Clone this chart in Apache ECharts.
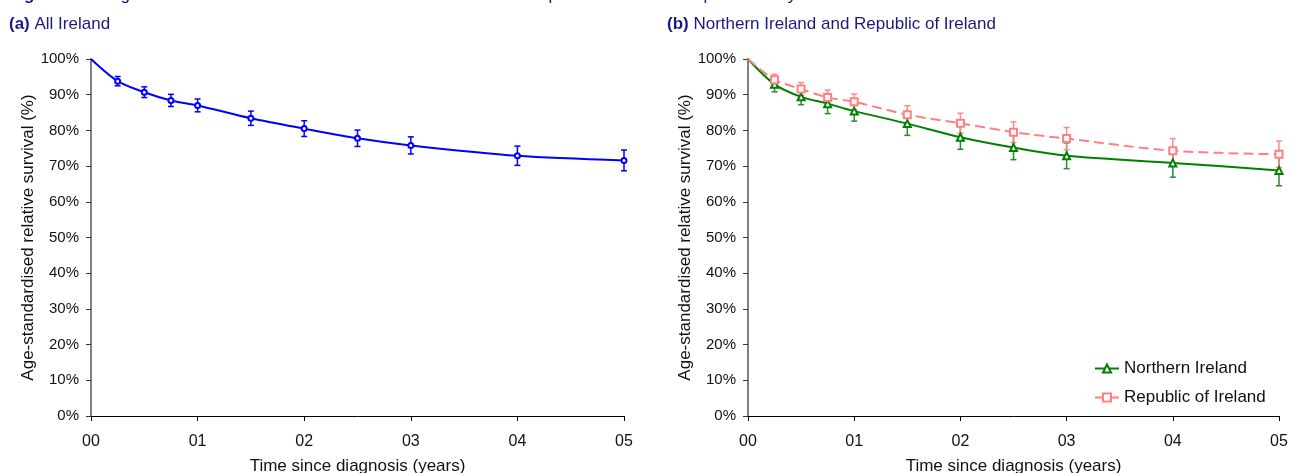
<!DOCTYPE html>
<html><head><meta charset="utf-8">
<script src="https://cdn.jsdelivr.net/npm/echarts@6/dist/echarts.min.js"></script>
<style>html,body{margin:0;padding:0;background:#fff}#c{width:1290px;height:473px}</style>
</head><body><div id="c"></div>
<script>
const years = [0, 0.25, 0.5, 0.75, 1, 1.5, 2, 2.5, 3, 4, 5];
const allIreland = [100, 93.8, 90.7, 88.4, 87.0, 83.4, 80.5, 77.8, 75.8, 72.9, 71.6];
const allIrelandErr = [0, 1.3, 1.5, 1.7, 1.8, 2.0, 2.2, 2.3, 2.4, 2.7, 2.9];
const northernIreland = [100, 92.9, 89.4, 87.5, 85.4, 81.9, 78.1, 75.2, 72.9, 70.9, 68.8];
const northernIrelandErr = [0, 2.1, 2.2, 2.8, 2.8, 3.3, 3.4, 3.4, 3.6, 4.0, 4.3];
const republicIreland = [100, 94.2, 91.6, 89.2, 88.0, 84.4, 82.0, 79.5, 77.7, 74.3, 73.3];
const republicIrelandErr = [0, 1.5, 1.8, 2.1, 2.2, 2.5, 2.8, 2.9, 3.1, 3.4, 3.7];
const xTickLabels = ['00', '01', '02', '03', '04', '05'];
const seriesNames = ['Northern Ireland', 'Republic of Ireland'];

const FONT = '"Liberation Sans Narrow", "Liberation Sans", Arial, sans-serif';
const NAVY = '#1a1a80';

function lineData(vals) {
  return years.map((x, i) => i === 0 ? { value: [x, vals[i]], symbol: 'none' } : [x, vals[i]]);
}
function errData(vals, errs) {
  const out = [];
  years.forEach((x, i) => { if (errs[i] > 0) out.push([x, vals[i] - errs[i], vals[i] + errs[i]]); });
  return out;
}
function errRender(color) {
  return function (params, api) {
    const x = api.value(0);
    const lo = api.coord([x, api.value(1)]);
    const hi = api.coord([x, api.value(2)]);
    const w = 3;
    const st = { stroke: color, lineWidth: 1.5 };
    return { type: 'group', children: [
      { type: 'line', shape: { x1: lo[0], y1: lo[1], x2: hi[0], y2: hi[1] }, style: st },
      { type: 'line', shape: { x1: lo[0] - w, y1: lo[1], x2: lo[0] + w, y2: lo[1] }, style: st },
      { type: 'line', shape: { x1: hi[0] - w, y1: hi[1], x2: hi[0] + w, y2: hi[1] }, style: st }
    ] };
  };
}
function xAxis(idx) {
  return {
    type: 'value', gridIndex: idx, min: 0, max: 5, interval: 1,
    name: 'Time since diagnosis (years)', nameLocation: 'middle', nameGap: 42,
    nameTextStyle: { fontFamily: FONT, fontSize: 17, color: '#111' },
    axisLine: { lineStyle: { color: '#000', width: 1 } },
    axisTick: { length: 5, lineStyle: { color: '#000' } },
    axisLabel: { margin: 18, fontFamily: FONT, fontSize: 16, color: '#111', formatter: v => xTickLabels[Math.round(v)] },
    splitLine: { show: false }
  };
}
function yAxis(idx) {
  return {
    type: 'value', gridIndex: idx, min: 0, max: 100, interval: 10,
    name: 'Age-standardised relative survival (%)', nameLocation: 'middle', nameGap: 50,
    nameTextStyle: { fontFamily: FONT, fontSize: 17, color: '#111' },
    axisLine: { show: true, lineStyle: { color: '#808080', width: 2 } },
    axisTick: { show: true, length: 5, lineStyle: { color: '#333' } },
    axisLabel: { margin: 12, fontFamily: FONT, fontSize: 15, color: '#111', formatter: v => v + '%' },
    splitLine: { show: false }
  };
}

const chart = echarts.init(document.getElementById('c'), null, { renderer: 'canvas' });
chart.setOption({
  animation: false,
  backgroundColor: '#fff',
  textStyle: { fontFamily: FONT },
  graphic: [
    { type: 'text', left: 9, top: -13, style: { text: '{b|Figure 13.8:} Age-standardised relative survival for cancer of the uterus patients: 2000-2004 period analysis estimates',
      rich: { b: { fontWeight: 'bold', fontSize: 17, fill: NAVY, fontFamily: FONT } }, fontSize: 17, fill: NAVY, fontFamily: FONT } },
    { type: 'text', left: 9, top: 16, style: { text: '{b|(a)} All Ireland',
      rich: { b: { fontWeight: 'bold', fontSize: 17, fill: NAVY, fontFamily: FONT } }, fontSize: 17, fill: NAVY, fontFamily: FONT } },
    { type: 'text', left: 667, top: 16, style: { text: '{b|(b)} Northern Ireland and Republic of Ireland',
      rich: { b: { fontWeight: 'bold', fontSize: 17, fill: NAVY, fontFamily: FONT } }, fontSize: 17, fill: NAVY, fontFamily: FONT } }
  ],
  grid: [
    { left: 91, right: 666, top: 59, bottom: 57, containLabel: false, outerBoundsMode: 'none' },
    { left: 748, right: 11, top: 59, bottom: 57, containLabel: false, outerBoundsMode: 'none' }
  ],
  xAxis: [xAxis(0), xAxis(1)],
  yAxis: [yAxis(0), yAxis(1)],
  legend: {
    orient: 'vertical', left: 1089, top: 355, itemWidth: 24, itemHeight: 10, itemGap: 12,
    textStyle: { fontFamily: FONT, fontSize: 17, color: '#111' },
    data: seriesNames
  },
  series: [
    { type: 'custom', name: 'errA', xAxisIndex: 0, yAxisIndex: 0, renderItem: errRender('#0000ff'),
      encode: { x: 0, y: [1, 2] }, data: errData(allIreland, allIrelandErr), z: 1 },
    { type: 'line', name: 'All Ireland', xAxisIndex: 0, yAxisIndex: 0, smooth: 0.3,
      symbol: 'emptyCircle', symbolSize: 5, lineStyle: { color: '#0000ff', width: 2 },
      itemStyle: { color: '#0000ff', borderWidth: 1.5 }, data: lineData(allIreland), z: 3 },
    { type: 'custom', name: 'errNI', xAxisIndex: 1, yAxisIndex: 1, renderItem: errRender('#2a8a2a'),
      encode: { x: 0, y: [1, 2] }, data: errData(northernIreland, northernIrelandErr), z: 1 },
    { type: 'custom', name: 'errROI', xAxisIndex: 1, yAxisIndex: 1, renderItem: errRender('#ff8a8a'),
      encode: { x: 0, y: [1, 2] }, data: errData(republicIreland, republicIrelandErr), z: 1 },
    { type: 'line', name: seriesNames[0], xAxisIndex: 1, yAxisIndex: 1, smooth: 0.3,
      symbol: 'emptyTriangle', symbolSize: 7, lineStyle: { color: '#008000', width: 2 },
      itemStyle: { color: '#008000', borderWidth: 1.5 }, data: lineData(northernIreland), z: 3 },
    { type: 'line', name: seriesNames[1], xAxisIndex: 1, yAxisIndex: 1, smooth: 0.3,
      symbol: 'emptyRect', symbolSize: 7, lineStyle: { color: '#ff8080', width: 2, type: [10, 5] },
      itemStyle: { color: '#ff8080', borderWidth: 1.5 }, data: lineData(republicIreland), z: 3 }
  ]
});
</script></body></html>
